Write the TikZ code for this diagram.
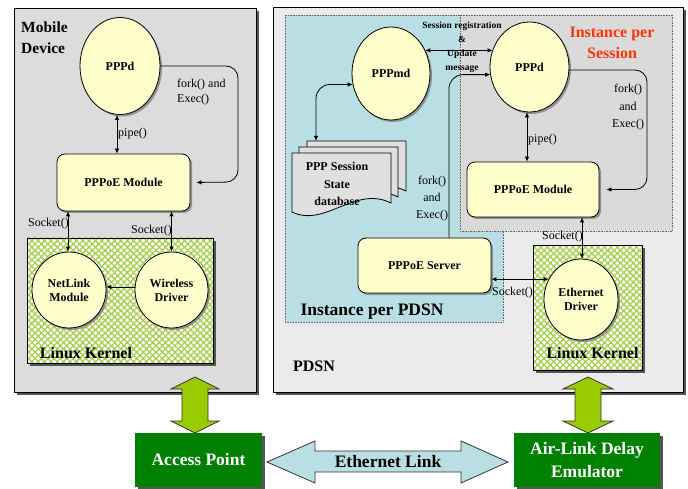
\documentclass[tikz,border=0pt]{standalone}
\usepackage{fontspec}
\setmainfont{Liberation Serif}
\usetikzlibrary{shapes.geometric,arrows.meta,patterns,patterns.meta,calc,shadows}
\definecolor{panelA}{HTML}{DCDCDC}
\definecolor{panelB}{HTML}{EBEBEB}
\definecolor{yell}{HTML}{FFFFCC}
\definecolor{iblue}{HTML}{B9DFE4}
\definecolor{isess}{HTML}{DADADA}
\definecolor{dgreen}{HTML}{008000}
\definecolor{limeg}{HTML}{99CC00}
\definecolor{kgreen}{HTML}{A6CF4E}
\definecolor{redor}{HTML}{FF3300}
\definecolor{docg}{HTML}{E0E0E0}
\definecolor{shadowc}{HTML}{555555}
\tikzset{
  ell/.style={ellipse, draw, line width=0.8pt, fill=yell, inner sep=0pt, align=center,
    font=\bfseries\fontsize{12}{14}\selectfont,
    drop shadow={shadow xshift=2pt, shadow yshift=-2pt, fill=gray, opacity=0.8}},
  rbox/.style={rectangle, rounded corners=8pt, draw, line width=0.8pt, fill=yell, inner sep=0pt,
    font=\bfseries\fontsize{12}{14}\selectfont,
    drop shadow={shadow xshift=2pt, shadow yshift=-2pt, fill=gray, opacity=0.8}},
  gbox/.style={rectangle, fill=dgreen, text=white, inner sep=0pt, align=center,
    font=\bfseries\fontsize{17.5}{23}\selectfont,
    drop shadow={shadow xshift=2.5pt, shadow yshift=-2.5pt, fill=shadowc, opacity=1}},
  lbl/.style={inner sep=0pt, font=\fontsize{12}{14}\selectfont},
  blbl/.style={inner sep=0pt, font=\bfseries\fontsize{16}{21}\selectfont},
  arr/.style={line width=0.8pt, -{Latex[length=5pt,width=4.5pt]}},
  darr/.style={line width=0.8pt, {Latex[length=5pt,width=4.5pt]}-{Latex[length=5pt,width=4.5pt]}},
  dotbox/.style={draw=gray!80!black, densely dotted, line width=0.6pt},
  blockarr/.style={draw=black!80, line width=0.8pt},
  kpatA/.style={pattern={Lines[angle=45,distance=4.5pt,line width=1.3pt]}, pattern color=kgreen},
  kpatB/.style={pattern={Lines[angle=-45,distance=4.5pt,line width=1.3pt]}, pattern color=kgreen},
}
\begin{document}
\begin{tikzpicture}[x=1pt,y=-1pt]
\useasboundingbox (0,0) rectangle (688,489);

% ---------- Mobile device panel ----------
\fill[shadowc] (17,11) rectangle (259,395);
\draw[fill=panelA, line width=0.8pt] (14,8) rectangle (256,392);
\node[blbl, anchor=north west, align=left, font=\bfseries\fontsize{15.5}{21}\selectfont] (mdlbl) at (21,22) {Mobile\\Device};

% kernel box left
\fill[shadowc] (30,241) rectangle (216,366);
\fill[white] (27,238) rectangle (213,363);
\fill[kpatA] (27,238) rectangle (213,363);
\fill[kpatB] (27,238) rectangle (213,363);
\draw[line width=0.6pt] (27,238) rectangle (213,363);
\node[blbl] (lk1) at (86,353) {Linux Kernel};

\node[ell, minimum width=80pt, minimum height=97pt] (ppd1) at (120,66) {PPPd};
\node[rbox, minimum width=133pt, minimum height=57pt] (mod1) at (123.5,182.5) {PPPoE Module};
\node[ell, minimum width=74pt, minimum height=76pt] (netlink) at (69,290) {NetLink\\Module};
\node[ell, minimum width=73pt, minimum height=76pt] (wireless) at (171.5,290) {Wireless\\Driver};

\draw[darr] (ppd1.south -| 117,0) -- (mod1.north -| 117,0);
\node[lbl, anchor=west] (pipe1) at (118,134) {pipe()};
\coordinate (fk1) at (238,182);
\draw[arr, rounded corners=12pt, shorten >=6pt] (ppd1.east) -| (fk1) -- (mod1.east);
\node[lbl, anchor=north west, align=left, font=\fontsize{12}{15}\selectfont] (fork1) at (177,79) {fork() and\\Exec()};
\draw[darr] (netlink.north -| 68,0) -- (mod1.south -| 68,0);
\draw[darr] (wireless.north) -- (wireless.north |- mod1.south);
\node[lbl, anchor=east] (sock1) at (69,224) {Socket()};
\node[lbl, anchor=east] (sock2) at (172,231) {Socket()};
\draw[arr] (wireless.west |- 0,287) -- (netlink.east |- 0,287);

% ---------- PDSN panel ----------
\fill[shadowc] (276,10) rectangle (686,395);
\draw[fill=panelB, line width=0.8pt] (273,7) rectangle (683,392);
\node[blbl] (pdsn) at (314,366) {PDSN};

\fill[iblue] (285,15) rectangle (503,322);
\draw[dotbox] (285,15) rectangle (503,322);
\fill[isess] (460,15) rectangle (672,231);
\draw[dotbox] (460,15) rectangle (672,231);
\node[blbl, font=\bfseries\fontsize{17.5}{21}\selectfont] (ipp) at (372,312) {Instance per PDSN};
\node[blbl, text=redor, align=center, font=\bfseries\fontsize{16}{21}\selectfont] (ips) at (612,42.5) {Instance per\\Session};

% kernel box right
\fill[shadowc] (536,248) rectangle (645,373);
\fill[white] (533,245) rectangle (642,370);
\fill[kpatA] (533,245) rectangle (642,370);
\fill[kpatB] (533,245) rectangle (642,370);
\draw[line width=0.6pt] (533,245) rectangle (642,370);
\node[blbl] (lk2) at (592.5,353) {Linux Kernel};

% database documents
\foreach \dx/\dy in {15/-12, 7/-6, 0/0}{
  \draw[fill=docg, line width=0.8pt, shift={(\dx,\dy)}]
    (292,153) -- (391,153) -- (391,203)
    .. controls (355,185) and (325,228) .. (292,212) -- cycle;
}
\node[inner sep=0pt, align=center, font=\bfseries\fontsize{12}{17.5}\selectfont] (db) at (337,184) {PPP Session\\State\\database};
\coordinate (dbtop) at (316,141);

\node[ell, minimum width=78pt, minimum height=93pt] (pppmd) at (391,73.5) {PPPmd};
\node[ell, minimum width=79pt, minimum height=90pt] (ppd2) at (529.5,67) {PPPd};
\node[rbox, minimum width=132pt, minimum height=55pt] (mod2) at (533,189.5) {PPPoE Module};
\node[rbox, minimum width=133pt, minimum height=55pt] (server) at (424.5,265.5) {PPPoE Server};
\node[ell, minimum width=74pt, minimum height=81pt] (eth) at (581,299.5) {Ethernet\\Driver};

\draw[darr] (pppmd.34) -- (pppmd.34 -| ppd2.155);
\node[inner sep=0pt, align=center, font=\bfseries\fontsize{9.5}{14}\selectfont] (sess) at (462,47.5) {Session registration\\\&\\Update\\message};
\draw[darr, rounded corners=14pt] (dbtop) |- (pppmd.196);
\draw[arr, rounded corners=14pt] ($(server.north)+(24.5,0)$) |- (ppd2.191);
\node[lbl, align=center, font=\fontsize{12}{17}\selectfont] (fork2) at (432,199) {fork()\\and\\Exec()};

\draw[darr] (ppd2.south -| 527,0) -- (mod2.north -| 527,0);
\node[lbl, anchor=west] (pipe2) at (528,140) {pipe()};
\coordinate (fk2) at (647,189.5);
\draw[arr, rounded corners=12pt, shorten >=7pt] (ppd2.east |- 0,70) -| (fk2) -- (mod2.east);
\node[lbl, align=center, font=\fontsize{12}{17.5}\selectfont] (fork3) at (628,107.5) {fork()\\and\\Exec()};

\draw[darr] (eth.north -| 582,0) -- (mod2.south -| 582,0);
\node[lbl, anchor=east] (sock3) at (583,237) {Socket()};
\draw[darr] (eth.148) -- (eth.148 -| server.east);
\node[lbl, anchor=west] (sock4) at (492,293) {Socket()};

% ---------- bottom ----------
\filldraw[fill=limeg, blockarr] (195,377) -- (219,389) -- (208,389) -- (208,421) -- (219,421) -- (195,433)
  -- (171,421) -- (182,421) -- (182,389) -- (171,389) -- cycle;
\filldraw[fill=limeg, blockarr] (588,377) -- (613,389) -- (601,389) -- (601,421) -- (613,421) -- (588,433)
  -- (563,421) -- (575,421) -- (575,389) -- (563,389) -- cycle;
\filldraw[fill=iblue, blockarr] (267,462) -- (315,441) -- (315,451) -- (461,451) -- (461,441) -- (508,462)
  -- (461,483) -- (461,472) -- (315,472) -- (315,483) -- cycle;
\node[inner sep=0pt, font=\bfseries\fontsize{17.5}{21}\selectfont] (elink) at (388,462) {Ethernet Link};

\node[gbox, minimum width=127pt, minimum height=54pt] (ap) at (198.5,460) {Access Point};
\node[gbox, minimum width=146pt, minimum height=54pt] (ald) at (587,460) {Air-Link Delay\\Emulator};
\end{tikzpicture}
\end{document}
